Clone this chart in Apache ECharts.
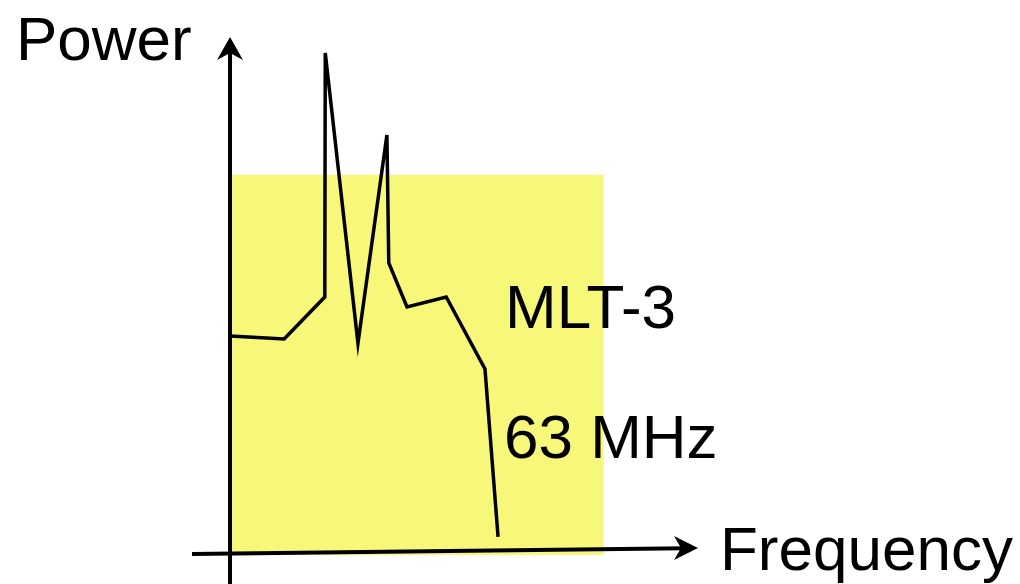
<!DOCTYPE html>
<html>
<head>
<meta charset="utf-8">
<script src="https://cdn.jsdelivr.net/npm/echarts@6/dist/echarts.min.js"></script>
<style>
  html, body { margin: 0; padding: 0; background: #ffffff; }
  #chart { width: 1020px; height: 584px; }
</style>
</head>
<body>
<div id="chart"></div>
<script>
// MLT-3 spectrum sketch: relative power vs. frequency (arbitrary units)
const frequency = [0, 11.6, 20.3, 20.4, 27.4, 33.6, 34.0, 37.9, 46.3, 54.6, 57.4];
const power     = [42.3, 41.7, 49.8, 96.9, 40.9, 81.1, 56.4, 47.9, 49.8, 35.9, 3.5];

// shaded band: frequency 0..80, power 0..73.4
const bandFrequency = [0, 80];
const bandPower = [0, 73.4];

const labels = {
  yName: 'Power',
  xName: 'Frequency',
  note1: 'MLT-3',
  note2: '63 MHz'
};

const FONT_SIZE = 62;
const FONT = FONT_SIZE + 'px "Liberation Sans", Arial, sans-serif';
const INK = '#000000';
const BAND = '#f7f779';

const chart = echarts.init(document.getElementById('chart'), null, { renderer: 'canvas' });

const points = frequency.map((f, i) => [f, power[i]]);

// place text by its alphabetic baseline
function text(str, x, baseline) {
  return {
    type: 'text',
    x: x,
    y: baseline - FONT_SIZE * 0.3465,
    z: 20,
    style: {
      text: str,
      font: FONT,
      fill: INK,
      textAlign: 'left',
      textVerticalAlign: 'middle'
    }
  };
}

chart.setOption({
  animation: false,
  backgroundColor: '#ffffff',
  grid: { left: 230, top: 37, width: 467, height: 518 },
  xAxis: {
    type: 'value', min: 0, max: 100,
    show: false
  },
  yAxis: {
    type: 'value', min: 0, max: 100,
    show: false
  },
  series: [{
    type: 'line',
    data: points,
    symbol: 'none',
    z: 5,
    lineStyle: { color: INK, width: 3.5, join: 'miter' },
    markArea: {
      silent: true,
      itemStyle: { color: BAND, opacity: 1 },
      data: [[
        { coord: [bandFrequency[0], bandPower[0]] },
        { coord: [bandFrequency[1], bandPower[1]] }
      ]]
    }
  }],
  graphic: [
    // vertical axis with arrowhead
    {
      type: 'line', z: 10,
      shape: { x1: 230, y1: 584, x2: 230, y2: 50 },
      style: { stroke: INK, lineWidth: 4 }
    },
    {
      type: 'polygon', z: 10,
      shape: { points: [[230, 37], [243, 60], [230, 53], [217, 60]] },
      style: { fill: INK }
    },
    // horizontal axis with arrowhead
    {
      type: 'line', z: 10,
      shape: { x1: 192, y1: 554, x2: 685, y2: 548.2 },
      style: { stroke: INK, lineWidth: 4 }
    },
    {
      type: 'polygon', z: 10,
      shape: { points: [[698, 548], [674, 536], [681, 548], [674, 560]] },
      style: { fill: INK }
    },
    text(labels.yName, 16, 64),
    text(labels.xName, 720, 574),
    text(labels.note1, 505, 332),
    text(labels.note2, 504, 462)
  ]
});
</script>
</body>
</html>
